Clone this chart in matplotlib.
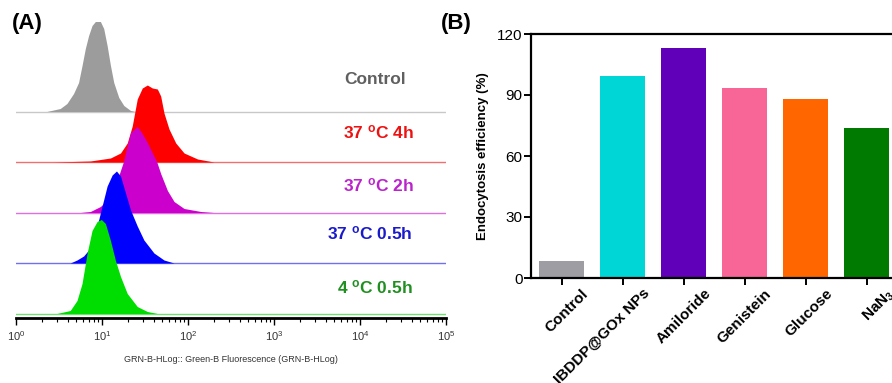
import matplotlib
matplotlib.use("Agg")
import matplotlib.pyplot as plt
import matplotlib.transforms as mtransforms
from matplotlib.ticker import LogLocator, NullFormatter

plt.rcParams['font.family'] = ['Liberation Sans', 'DejaVu Sans']
plt.rcParams['mathtext.fontset'] = 'custom'
plt.rcParams['mathtext.rm'] = 'Liberation Sans'
plt.rcParams['mathtext.bf'] = 'Liberation Sans:bold'
plt.rcParams['mathtext.it'] = 'Liberation Sans:italic'

# ---------------- Panel A data (flow cytometry histograms) ----------------
hist_labels = ["Control", "37 $^{\\mathbf{o}}$C 4h", "37 $^{\\mathbf{o}}$C 2h",
               "37 $^{\\mathbf{o}}$C 0.5h", "4 $^{\\mathbf{o}}$C 0.5h"]

control_fl = [2.28, 3.27, 3.91, 4.67, 5.34, 5.86, 6.40, 6.99, 7.66, 8.37, 9.58,
              10.47, 11.47, 12.54, 13.70, 15.67, 17.93, 21.47, 24.56]
control_ct = [0, 3, 8, 18, 29, 46, 63, 76, 86, 90, 90, 83, 66, 46, 29, 14, 6, 1, 0]

h4_fl = [2.73, 7.32, 12.54, 16.41, 19.65, 22.47, 25.70, 29.41, 33.65, 38.49, 44.03,
         48.11, 52.58, 60.15, 72.03, 90.03, 129.1, 200.2]
h4_ct = [0, 1, 4, 9, 19, 36, 63, 74, 77, 74, 73, 66, 49, 33, 19, 9, 3, 0]

h2_fl = [5.59, 7.32, 9.58, 12.54, 14.73, 17.78, 19.28, 21.47, 25.70, 28.86, 33.65,
         39.86, 43.20, 48.11, 57.62, 68.81, 90.03, 141.1, 200.2]
h2_ct = [0, 1, 6, 15, 30, 51, 64, 80, 86, 80, 70, 57, 51, 39, 22, 11, 4, 1, 0]

h05_fl = [4.27, 5.12, 6.11, 7.32, 8.77, 10.03, 11.47, 13.12, 14.73, 16.41, 18.77,
          21.47, 25.70, 30.70, 40.18, 52.58, 68.81]
h05_ct = [0, 3, 7, 15, 37, 57, 77, 88, 92, 87, 70, 53, 37, 23, 10, 3, 0]

c4_fl = [2.99, 4.27, 5.12, 5.86, 6.70, 7.66, 8.77, 9.84, 10.96, 12.54, 14.34,
         16.41, 19.65, 25.70, 33.65, 44.03]
c4_ct = [0, 3, 13, 30, 60, 83, 92, 94, 90, 73, 53, 37, 20, 7, 2, 0]

hist_fl = [control_fl, h4_fl, h2_fl, h05_fl, c4_fl]
hist_ct = [control_ct, h4_ct, h2_ct, h05_ct, c4_ct]

fill_colors = ["#9c9c9c", "#ff0000", "#cc00cc", "#0000ff", "#00dd00"]
line_colors = ["#c8c8c8", "#f07070", "#e070e0", "#7070f0", "#70e070"]
text_colors = ["#606060", "#ee1111", "#bb22cc", "#1a1acc", "#1f8f1f"]

# ---------------- Panel B data ----------------
categories = ["Control", "IBDDP@GOx NPs", "Amiloride", "Genistein", "Glucose", "NaN$_\\mathbf{3}$"]
efficiency = [8.4, 99.4, 113.3, 93.5, 88.0, 73.9]
bar_colors = ["#9d9da3", "#00d6d6", "#6000b8", "#f76696", "#ff6600", "#007a00"]

W, H = 892, 383
fig = plt.figure(figsize=(W / 100, H / 100), dpi=100)

# ---------------- Panel A ----------------
axA = fig.add_axes([16 / W, 65 / H, 430 / W, 303 / H])
step = 50.5
n = len(hist_fl)
for k in range(n):
    off = (n - 1 - k) * step
    top = [off + c for c in hist_ct[k]]
    axA.fill_between(hist_fl[k], off, top, color=fill_colors[k], lw=0, zorder=3 + 2 * k)
    axA.axhline(off, color=line_colors[k], lw=1.0, zorder=2 + 2 * k)

axA.set_xscale('log')
axA.set_xlim(1, 1e5)
axA.set_ylim(-4.5, 298.5)
for s in ['left', 'right', 'top']:
    axA.spines[s].set_visible(False)
axA.spines['bottom'].set_linewidth(2)
axA.set_yticks([])
axA.xaxis.set_major_locator(LogLocator(base=10, numticks=10))
axA.xaxis.set_minor_locator(LogLocator(base=10, subs=range(2, 10), numticks=10))
axA.xaxis.set_minor_formatter(NullFormatter())
axA.tick_params(axis='x', which='major', direction='out', length=5, width=1,
                labelsize=8, labelcolor='#333333', pad=3)
axA.tick_params(axis='x', which='minor', direction='out', length=3, width=0.8)
axA.set_xlabel("GRN-B-HLog:: Green-B Fluorescence (GRN-B-HLog)", fontsize=6.5,
               color='#333333', labelpad=9)

label_pos = [(375, 79), (378, 132), (378, 185), (370, 233), (375, 287)]
for k in range(n):
    x, y = label_pos[k]
    fig.text(x / W, 1 - y / H, hist_labels[k], color=text_colors[k], fontsize=12.5,
             fontweight='bold', ha='center', va='center')

fig.text(27 / W, 1 - 23 / H, "(A)", fontsize=16, fontweight='bold', ha='center', va='center')
fig.text(456 / W, 1 - 24 / H, "(B)", fontsize=16, fontweight='bold', ha='center', va='center')

# ---------------- Panel B ----------------
axB = fig.add_axes([531 / W, 105 / H, 366 / W, 244 / H])
xpos = list(range(len(categories)))
axB.bar(xpos, efficiency, width=0.73, color=bar_colors, edgecolor='none')
axB.set_xlim(-0.5, 5.5)
axB.set_ylim(0, 120)
axB.set_yticks([0, 30, 60, 90, 120])
axB.spines['right'].set_visible(False)
for s in ['left', 'bottom', 'top']:
    axB.spines[s].set_linewidth(1.6)
axB.tick_params(axis='y', direction='out', length=5, width=1.4, labelsize=11, pad=1)
axB.tick_params(axis='x', direction='out', length=5, width=1.4, pad=1)
axB.set_xticks(xpos)
axB.set_xticklabels(categories, rotation=45, ha='right', va='top',
                    rotation_mode='anchor', fontsize=11, fontweight='bold')
offset = mtransforms.ScaledTranslation(20 / 100, 0, fig.dpi_scale_trans)
for lbl in axB.get_xticklabels():
    lbl.set_transform(lbl.get_transform() + offset)
axB.set_ylabel("Endocytosis efficiency (%)", fontsize=9.5, fontweight='bold', labelpad=6)

fig.savefig("out.png", dpi=100)
